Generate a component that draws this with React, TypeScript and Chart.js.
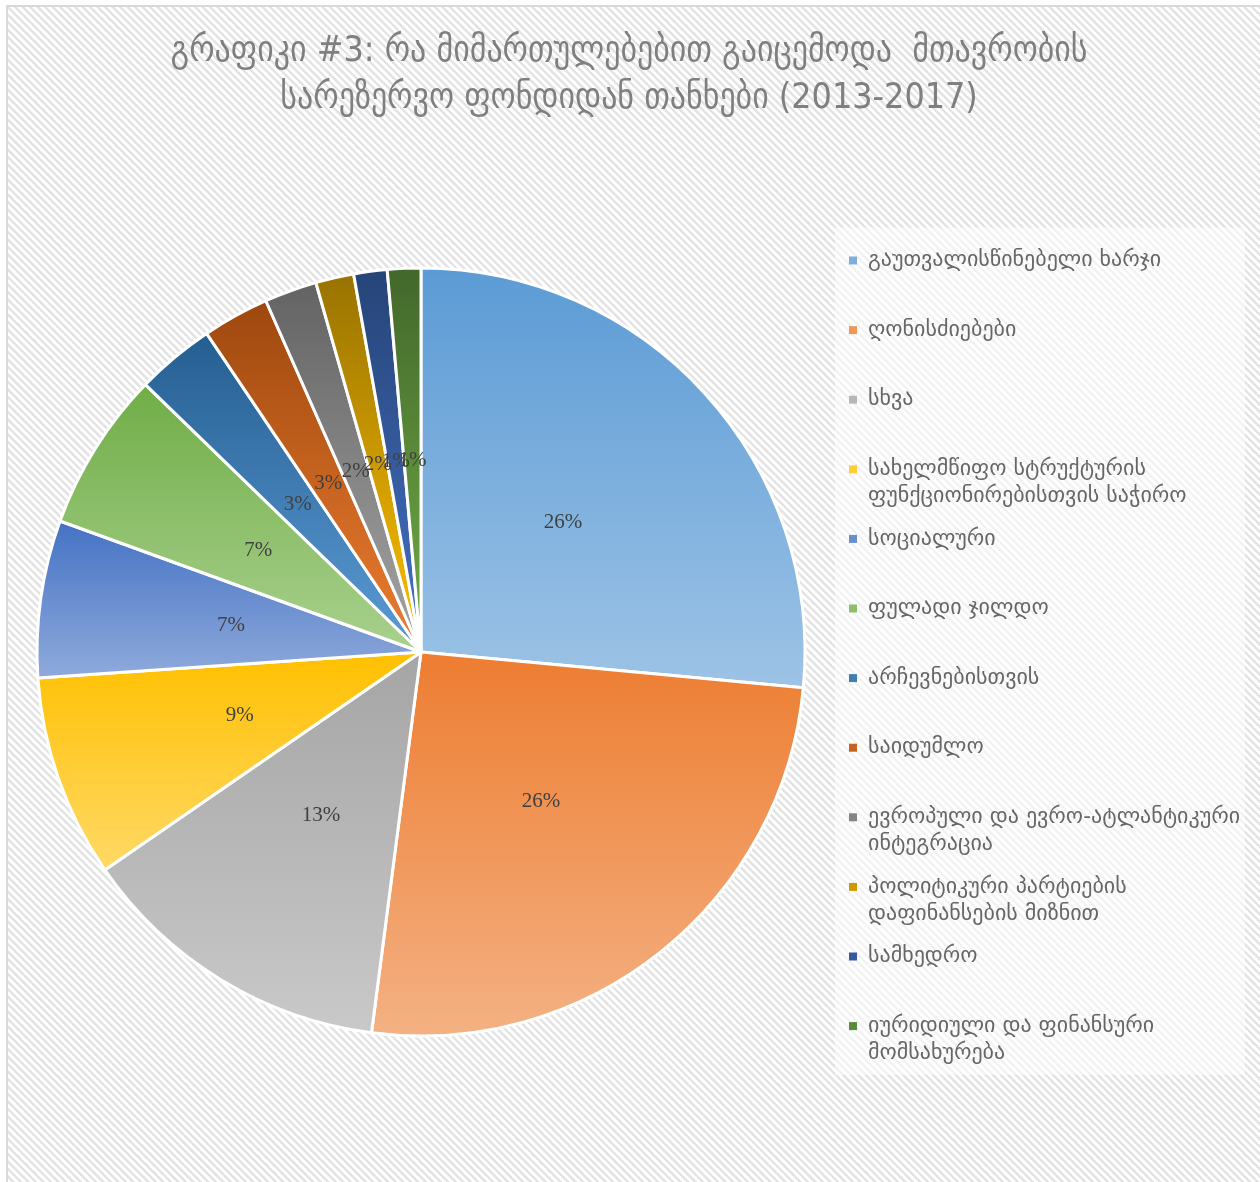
import React, { useEffect, useRef } from "react";
import { Chart, registerables } from "chart.js";

Chart.register(...registerables);

const TITLE_LINES = [
  "გრაფიკი #3: რა მიმართულებებით გაიცემოდა  მთავრობის",
  "სარეზერვო ფონდიდან თანხები (2013-2017)",
];

const CATEGORIES: string[][] = [
  ["გაუთვალისწინებელი ხარჯი"],
  ["ღონისძიებები"],
  ["სხვა"],
  ["სახელმწიფო სტრუქტურის", "ფუნქციონირებისთვის საჭირო"],
  ["სოციალური"],
  ["ფულადი ჯილდო"],
  ["არჩევნებისთვის"],
  ["საიდუმლო"],
  ["ევროპული და ევრო-ატლანტიკური", "ინტეგრაცია"],
  ["პოლიტიკური პარტიების", "დაფინანსების მიზნით"],
  ["სამხედრო"],
  ["იურიდიული და ფინანსური", "მომსახურება"],
];

const VALUES = [26.4, 25.5, 13.3, 8.5, 6.6, 6.7, 3.3, 2.8, 2.2, 1.6, 1.4, 1.4];

const TOP_COLORS = [
  "#5b9bd5", "#ed7d31", "#a5a5a5", "#ffc000", "#4472c4", "#70ad47",
  "#255e91", "#9e480e", "#636363", "#997300", "#264478", "#43682b",
];
const BOTTOM_COLORS = [
  "#9dc3e6", "#f4b183", "#c9c9c9", "#ffd966", "#8faadc", "#a9d18e",
  "#5b9bd5", "#ed7d31", "#a5a5a5", "#ffc000", "#4472c4", "#70ad47",
];
const LEGEND_COLORS = [
  "#7cafdd", "#f0975a", "#b7b7b7", "#ffcc33", "#6a8ed0", "#8cbf6a",
  "#407db3", "#c5621f", "#848484", "#cc9a00", "#355b9e", "#5a8b39",
];

const TITLE_FONT = '"DejaVu Sans Condensed", "DejaVu Sans", sans-serif';
const LEGEND_FONT = '"DejaVu Sans", sans-serif';
const LEGEND_SIZE = 22;
const LEGEND_LINE = 27.3;
const LEGEND_PAD = 15;
const LEGEND_WIDTH = 426;
const LEGEND_FIRST_Y = 258;
const RADIUS = 384;

export default function App() {
  const ref = useRef<HTMLCanvasElement>(null);

  useEffect(() => {
    const canvas = ref.current;
    if (!canvas) return;
    const total = VALUES.reduce((a, b) => a + b, 0);

    // natural legend width -> pad the right so the legend starts where the reference does
    const mctx = document.createElement("canvas").getContext("2d")!;
    mctx.font = `${LEGEND_SIZE}px ${LEGEND_FONT}`;
    let maxItem = 0;
    CATEGORIES.forEach((lines) => {
      const longest = lines.reduce((a, b) => (a.length > b.length ? a : b));
      maxItem = Math.max(maxItem, 8 + LEGEND_SIZE / 2 + mctx.measureText(longest).width);
    });
    const natural = LEGEND_PAD + maxItem + 10;
    const padRight = Math.max(0, LEGEND_WIDTH - natural);

    const gradientFor = (c: any) => {
      const chart = c.chart;
      const i = c.dataIndex;
      const area = chart.chartArea;
      if (!area || i === undefined) return TOP_COLORS[i ?? 0];
      const cy = (area.top + area.bottom) / 2;
      let start = -Math.PI / 2;
      for (let k = 0; k < i; k++) start += (VALUES[k] / total) * 2 * Math.PI;
      const end = start + (VALUES[i] / total) * 2 * Math.PI;
      let top = Math.min(cy, cy + RADIUS * Math.sin(start), cy + RADIUS * Math.sin(end));
      let bottom = Math.max(cy, cy + RADIUS * Math.sin(start), cy + RADIUS * Math.sin(end));
      for (const a of [-Math.PI / 2, Math.PI / 2, (3 * Math.PI) / 2]) {
        if (a >= start && a <= end) {
          const y = cy + RADIUS * Math.sin(a);
          top = Math.min(top, y);
          bottom = Math.max(bottom, y);
        }
      }
      const g = chart.ctx.createLinearGradient(0, top, 0, bottom);
      g.addColorStop(0, TOP_COLORS[i]);
      g.addColorStop(1, BOTTOM_COLORS[i]);
      return g;
    };

    const legendBg = {
      id: "legendBg",
      beforeDraw(chart: any) {
        const lg = chart.legend;
        if (!lg || !lg.legendHitBoxes || !lg.legendHitBoxes.length) return;
        const hb = lg.legendHitBoxes;
        const top = hb[0].top - 22;
        const last = hb[hb.length - 1];
        const bottom = last.top + last.height + 5;
        const ctx = chart.ctx;
        ctx.save();
        ctx.fillStyle = "rgba(255,255,255,0.55)";
        ctx.fillRect(lg.left + 1, top, 410, bottom - top);
        ctx.restore();
      },
    };

    const sliceLabels = {
      id: "sliceLabels",
      afterDatasetsDraw(chart: any) {
        const meta = chart.getDatasetMeta(0);
        const ctx = chart.ctx;
        ctx.save();
        ctx.font = '21px "Liberation Serif", serif';
        ctx.fillStyle = "#404040";
        ctx.textAlign = "center";
        ctx.textBaseline = "middle";
        meta.data.forEach((arc: any, i: number) => {
          const p = arc.tooltipPosition(false);
          ctx.fillText(Math.round((VALUES[i] / total) * 100) + "%", p.x, p.y);
        });
        ctx.restore();
      },
    };

    const chart = new Chart(canvas, {
      type: "pie",
      data: {
        labels: CATEGORIES.map((l) => l.join(" ")),
        datasets: [
          {
            data: VALUES,
            backgroundColor: (c: any) => gradientFor(c),
            borderColor: "#ffffff",
            borderWidth: 3,
            radius: RADIUS,
          } as any,
        ],
      },
      options: {
        responsive: false,
        animation: false,
        layout: { padding: { left: 8, right: padRight, top: 0, bottom: 8 } },
        plugins: {
          title: {
            display: true,
            text: TITLE_LINES,
            color: "#7f7f7f",
            font: { family: TITLE_FONT, size: 35.5, weight: "normal", lineHeight: 1.324 },
            padding: { top: 28, bottom: 8 },
          },
          legend: {
            position: "right",
            align: "start",
            maxWidth: LEGEND_WIDTH,
            title: {
              display: true,
              text: "",
              font: { size: 10, lineHeight: 1 },
              padding: { top: 0, bottom: LEGEND_FIRST_Y - LEGEND_SIZE / 2 - 12.5 - 10 },
            },
            labels: {
              boxWidth: 8,
              boxHeight: 8,
              padding: LEGEND_PAD,
              color: "#595959",
              font: { family: LEGEND_FONT, size: LEGEND_SIZE, lineHeight: LEGEND_LINE / LEGEND_SIZE },
              generateLabels: () =>
                CATEGORIES.map((lines, i) => ({
                  text: lines.length > 1 ? lines : [lines[0], ""],
                  fillStyle: LEGEND_COLORS[i],
                  strokeStyle: LEGEND_COLORS[i],
                  lineWidth: 0,
                  hidden: false,
                  index: i,
                })) as any,
            },
          },
          tooltip: { enabled: false },
        },
      } as any,
      plugins: [legendBg, sliceLabels],
    });

    return () => chart.destroy();
  }, []);

  return (
    <div
      style={{
        position: "absolute",
        left: 0,
        top: 0,
        width: 1260,
        height: 1182,
        background: "#ffffff",
        overflow: "hidden",
      }}
    >
      <div
        style={{
          position: "absolute",
          left: 6,
          top: 5,
          right: 0,
          bottom: 0,
          borderLeft: "2px solid #d9d9d9",
          borderTop: "2px solid #d9d9d9",
          backgroundImage:
            "repeating-linear-gradient(45deg, #ffffff 0px, #ffffff 2.4px, #e3e3e3 2.9px, #e3e3e3 4.8px, #ffffff 5.3px)",
        }}
      />
      <canvas
        ref={ref}
        width={1260}
        height={1182}
        style={{ position: "absolute", left: 0, top: 0 }}
      />
    </div>
  );
}
